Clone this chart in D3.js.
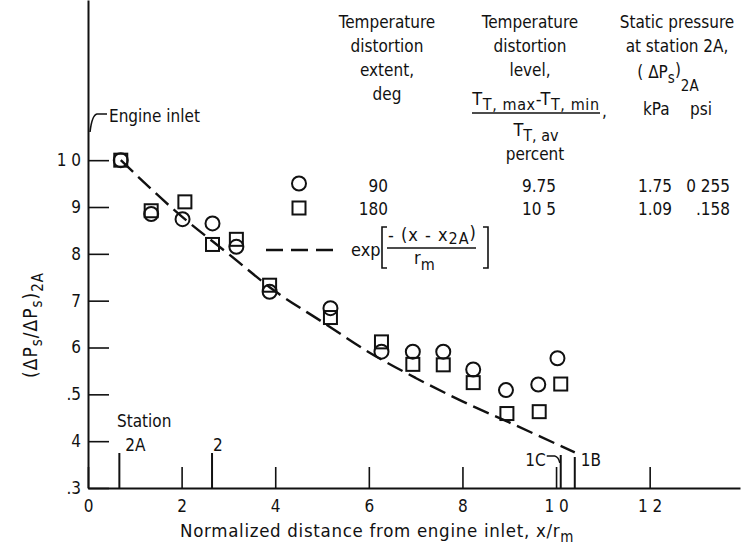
<!DOCTYPE html>
<html>
<head>
<meta charset="utf-8">
<script src="https://cdn.jsdelivr.net/npm/d3@7"></script>
<style>
body { margin: 0; background: #fff; }
svg text { font-family: "DejaVu Sans Condensed", "DejaVu Sans", sans-serif; font-stretch: condensed; font-size: 17px; fill: #111; }
.axis path, .axis line { stroke: #111; stroke-width: 2; }
.axis .tick line { stroke-width: 1.6; }
</style>
</head>
<body>
<div id="chart"></div>
<script>
var width = 745;
var height = 547;
var ink = "#111";

// 90 deg extent (circles)
var circleX = [0.70, 1.35, 2.02, 2.66, 3.17, 3.88, 5.18, 6.27, 6.94, 7.59, 8.23, 8.93, 9.62, 10.03];
var circleY = [1.000, 0.885, 0.874, 0.865, 0.815, 0.719, 0.684, 0.591, 0.591, 0.591, 0.553, 0.509, 0.521, 0.577];

// 180 deg extent (squares)
var squareX = [0.70, 1.35, 2.07, 2.66, 3.17, 3.88, 5.18, 6.27, 6.94, 7.59, 8.23, 8.95, 9.64, 10.10];
var squareY = [1.000, 0.892, 0.911, 0.820, 0.831, 0.733, 0.664, 0.612, 0.564, 0.563, 0.525, 0.459, 0.463, 0.522];

// exp curve
var curveX = [0.70, 2.0, 3.0, 4.0, 5.0, 6.0, 7.0, 8.0, 9.0, 10.4];
var curveY = [1.000, 0.880, 0.800, 0.720, 0.655, 0.590, 0.535, 0.485, 0.440, 0.376];

var yTicks = [0.3, 0.4, 0.5, 0.6, 0.7, 0.8, 0.9, 1.0];
var yTickLabels = [".3", "4", ".5", "6", "7", "8", "9", "1 0"];
var xTicks = [0, 2, 4, 6, 8, 10, 12];
var xTickLabels = ["0", "2", "4", "6", "8", "1 0", "1 2"];

var stationNames = ["2A", "2", "1C", "1B"];
var stationX = [0.67, 2.65, 10.1, 10.4];

var extentVals = ["90", "180"];
var levelVals = ["9.75", "10 5"];
var kpaVals = ["1.75", "1.09"];
var psiVals = ["0 255", ".158"];


/* Scales */
var xScale = d3.scaleLinear()
    .domain([0, 13.93])
    .range([88, 740]);

var yScale = d3.scaleLinear()
    .domain([0.3, 1.342])
    .range([488, 0]);


var svg = d3.select("#chart").append("svg")
    .attr("width", width)
    .attr("height", height)
    .style("background", "#fff");


/* Axes */
var yAxis = d3.axisLeft(yScale)
    .tickValues(yTicks)
    .tickFormat((d, i) => yTickLabels[i])
    .tickSizeInner(-21)
    .tickSizeOuter(0)
    .tickPadding(7);

var xAxis = d3.axisBottom(xScale)
    .tickValues(xTicks)
    .tickFormat((d, i) => xTickLabels[i])
    .tickSizeInner(-21)
    .tickSizeOuter(0)
    .tickPadding(12);

svg.append("g")
    .attr("class", "x axis")
    .attr("transform", `translate(0, ${yScale(0.3)})`)
    .call(xAxis);

svg.append("g")
    .attr("class", "y axis")
    .attr("transform", `translate(${xScale(0)}, 0)`)
    .call(yAxis);

// y label
var yLab = svg.append("text")
    .attr("transform", "translate(37, 325) rotate(-90)")
    .attr("text-anchor", "middle")
    .style("font-size", "19px")
    .style("letter-spacing", "1px");
yLab.append("tspan").text("(ΔP");
yLab.append("tspan").attr("dy", 5).style("font-size", "15px").text("s");
yLab.append("tspan").attr("dy", -5).text("/ΔP");
yLab.append("tspan").attr("dy", 5).style("font-size", "15px").text("s");
yLab.append("tspan").attr("dy", -5).text(")");
yLab.append("tspan").attr("dy", 6).style("font-size", "15px").text("2A");

// x label
var xLab = svg.append("text")
    .attr("x", 180)
    .attr("y", 537)
    .style("font-size", "18.5px")
    .style("letter-spacing", "0.7px");
xLab.append("tspan").text("Normalized distance from engine inlet, x/r");
xLab.append("tspan").attr("dy", 5).style("font-size", "15px").text("m");


/* Stations */
var stH = [35, 35, 33, 31];
svg.append("g")
    .selectAll("line")
    .data(stationX).enter()
    .append("line")
    .attr("x1", d => xScale(d))
    .attr("x2", d => xScale(d))
    .attr("y1", yScale(0.3))
    .attr("y2", (d, i) => yScale(0.3) - stH[i])
    .attr("stroke", ink)
    .attr("stroke-width", 2);

svg.append("text").attr("x", 117).attr("y", 427).text("Station");
svg.append("text").attr("x", xScale(stationX[0]) + 6).attr("y", 451).text(stationNames[0]);
svg.append("text").attr("x", xScale(stationX[1]) + 1).attr("y", 451).text(stationNames[1]);
svg.append("text").attr("x", xScale(stationX[2]) - 15).attr("y", 466).attr("text-anchor", "end").text(stationNames[2]);
svg.append("text").attr("x", xScale(stationX[3]) + 6).attr("y", 466).text(stationNames[3]);
svg.append("path")
    .attr("d", `M${xScale(stationX[2]) - 14},456 L${xScale(stationX[2]) - 6},456 Q${xScale(stationX[2]) - 2},457 ${xScale(stationX[2]) - 1},463`)
    .attr("fill", "none").attr("stroke", ink).attr("stroke-width", 1.4);

// engine inlet
svg.append("text").attr("x", 109).attr("y", 122).text("Engine inlet");
svg.append("path")
    .attr("d", "M90,132 Q92,115 97,114 L107,114")
    .attr("fill", "none").attr("stroke", ink).attr("stroke-width", 1.6);


/* Curve */
var line = d3.line()
    .x(d => xScale(d[0]))
    .y(d => yScale(d[1]))
    .curve(d3.curveMonotoneX);

svg.append("path")
    .attr("d", line(d3.zip(curveX, curveY)))
    .attr("fill", "none")
    .attr("stroke", ink)
    .attr("stroke-width", 2.4)
    .attr("stroke-dasharray", "17,7");


/* Points */
var sq = 13;
svg.append("g")
    .selectAll("rect")
    .data(d3.zip(squareX, squareY)).enter()
    .append("rect")
    .attr("x", d => xScale(d[0]) - sq / 2)
    .attr("y", d => yScale(d[1]) - sq / 2)
    .attr("width", sq)
    .attr("height", sq)
    .attr("fill", "none")
    .attr("stroke", ink)
    .attr("stroke-width", 2);

svg.append("g")
    .selectAll("circle")
    .data(d3.zip(circleX, circleY)).enter()
    .append("circle")
    .attr("cx", d => xScale(d[0]))
    .attr("cy", d => yScale(d[1]))
    .attr("r", 7)
    .attr("fill", "none")
    .attr("stroke", ink)
    .attr("stroke-width", 2);


/* Legend headers */
function lines(x, ys, txt) {
    txt.forEach(function(t, i) {
        svg.append("text")
            .attr("x", x)
            .attr("y", ys[i])
            .attr("text-anchor", "middle")
            .text(t);
    });
}
lines(387, [28, 52, 76, 100], ["Temperature", "distortion", "extent,", "deg"]);
lines(530, [28, 52, 76], ["Temperature", "distortion", "level,"]);
lines(677, [28, 52], ["Static pressure", "at station 2A,"]);

// level fraction
var num = svg.append("text").attr("x", 536).attr("y", 105).attr("text-anchor", "middle")
    .style("font-size", "18px").style("letter-spacing", "0.6px");
num.append("tspan").text("T");
num.append("tspan").attr("dy", 5).style("font-size", "16px").text("T, max");
num.append("tspan").attr("dy", -5).text("-T");
num.append("tspan").attr("dy", 5).style("font-size", "16px").text("T, min");
svg.append("line")
    .attr("x1", 472).attr("x2", 600).attr("y1", 113).attr("y2", 113)
    .attr("stroke", ink).attr("stroke-width", 1.6);
svg.append("text").attr("x", 602).attr("y", 117).text(",");
var den = svg.append("text").attr("x", 536).attr("y", 136).attr("text-anchor", "middle")
    .style("font-size", "18px");
den.append("tspan").text("T");
den.append("tspan").attr("dy", 5).style("font-size", "16px").text("T, av");
lines(535, [160], ["percent"]);

// static pressure symbol
var sp = svg.append("text").attr("x", 668).attr("y", 78).attr("text-anchor", "middle");
sp.append("tspan").text("( ΔP");
sp.append("tspan").attr("dy", 5).style("font-size", "15px").text("s");
sp.append("tspan").attr("dy", -7).text(")");
sp.append("tspan").attr("dy", 15).style("font-size", "15px").text("2A");
svg.append("text").attr("x", 643).attr("y", 115).text("kPa");
svg.append("text").attr("x", 690).attr("y", 115).text("psi");


/* Legend rows */
var rowY = [192, 215];
svg.append("circle").attr("cx", 299).attr("cy", rowY[0] - 8.5).attr("r", 7)
    .attr("fill", "none").attr("stroke", ink).attr("stroke-width", 2);
svg.append("rect").attr("x", 299 - sq / 2).attr("y", rowY[1] - 7 - sq / 2).attr("width", sq).attr("height", sq)
    .attr("fill", "none").attr("stroke", ink).attr("stroke-width", 2);

function col(x, vals) {
    vals.forEach(function(v, i) {
        svg.append("text").attr("x", x).attr("y", rowY[i]).attr("text-anchor", "end").text(v);
    });
}
col(388, extentVals);
col(556, levelVals);
col(672, kpaVals);
col(730, psiVals);

// exp legend
svg.append("line")
    .attr("x1", 266).attr("x2", 333).attr("y1", 250).attr("y2", 250)
    .attr("stroke", ink).attr("stroke-width", 2.4)
    .attr("stroke-dasharray", "17,8");
svg.append("text").attr("x", 351).attr("y", 256).style("font-size", "18px").text("exp");
svg.append("path")
    .attr("d", "M387,227 L382,227 L382,268 L387,268 M483,227 L488,227 L488,268 L483,268")
    .attr("fill", "none").attr("stroke", ink).attr("stroke-width", 1.6);
var en = svg.append("text").attr("x", 388).attr("y", 241)
    .style("font-size", "18px").style("letter-spacing", "1px");
en.append("tspan").text("- (x - x");
en.append("tspan").attr("dy", 3).style("font-size", "16px").text("2A");
en.append("tspan").attr("dy", -5).text(")");
svg.append("line")
    .attr("x1", 387).attr("x2", 476).attr("y1", 248).attr("y2", 248)
    .attr("stroke", ink).attr("stroke-width", 1.6);
var ed = svg.append("text").attr("x", 414).attr("y", 264).style("font-size", "18px");
ed.append("tspan").text("r");
ed.append("tspan").attr("dy", 6).style("font-size", "16px").text("m");
</script>
</body>
</html>
